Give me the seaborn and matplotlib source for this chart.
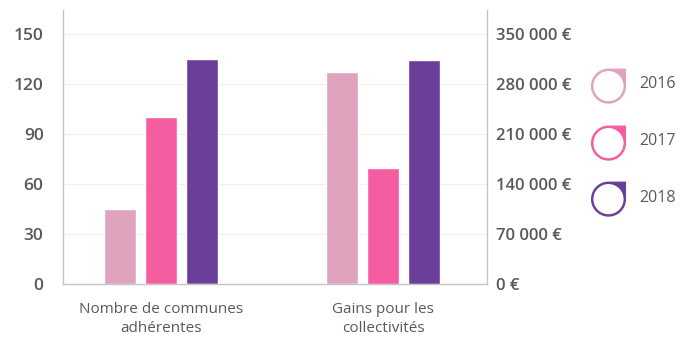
import numpy as np
import pandas as pd
import matplotlib
matplotlib.use("Agg")
import matplotlib.pyplot as plt
from matplotlib.path import Path
from matplotlib.lines import Line2D
from matplotlib.ticker import FuncFormatter
import seaborn as sns

# ---- data ----
categories = ["Nombre de communes\nadhérentes", "Gains pour les\ncollectivités"]
years = ["2016", "2017", "2018"]
communes = [45, 100, 135]
gains = [297000, 162000, 313000]
left_ticks = [0, 30, 60, 90, 120, 150]
right_ticks = [0, 70000, 140000, 210000, 280000, 350000]
colors = {"2016": "#dfa3bd", "2017": "#f45d9f", "2018": "#6b3f99"}

sns.set_theme(style="white")
plt.rcParams["font.family"] = ["Open Sans", "DejaVu Sans"]
TXT = "#58595b"

df1 = pd.DataFrame({"cat": [categories[0]] * 3, "year": years, "value": communes})
df2 = pd.DataFrame({"cat": [categories[1]] * 3, "year": years, "value": gains})

fig = plt.figure(figsize=(6.8, 3.37), dpi=100)
ax = fig.add_axes([63 / 680, 1 - 284 / 337, (487 - 63) / 680, (284 - 10) / 337])
ax2 = ax.twinx()

sns.barplot(data=df1, x="cat", y="value", hue="year", order=categories,
            hue_order=years, palette=colors, width=0.555, gap=0.22,
            legend=False, ax=ax, saturation=1)
sns.barplot(data=df2, x="cat", y="value", hue="year", order=categories,
            hue_order=years, palette=colors, width=0.555, gap=0.22,
            legend=False, ax=ax2, saturation=1)

ymax = 164.4
ax.set_ylim(0, ymax)
ax2.set_ylim(0, ymax * 7000 / 3)
ax.set_xlim(-0.441, 1.468)

ax.set_yticks(left_ticks)
ax2.set_yticks(right_ticks)
ax2.yaxis.set_major_formatter(FuncFormatter(lambda v, p: f"{int(v):,}".replace(",", " ") + " €"))

ax.set_xlabel("")
ax.set_ylabel("")
ax2.set_xlabel("")
ax2.set_ylabel("")

for a in (ax, ax2):
    for s in a.spines.values():
        s.set_color("#c4c4c4")
        s.set_linewidth(1.0)
    a.spines["top"].set_visible(False)
ax.spines["right"].set_visible(False)
ax2.spines["left"].set_visible(False)
ax2.spines["bottom"].set_visible(False)

ax.grid(axis="y", color="#f0f0f0", linewidth=0.8)
ax.set_axisbelow(True)
ax2.grid(False)

ax.tick_params(axis="y", length=0, pad=14, labelsize=12.5, labelcolor=TXT)
ax2.tick_params(axis="y", length=0, pad=6.5, labelsize=12, labelcolor=TXT)
for lab in ax.get_yticklabels() + ax2.get_yticklabels():
    lab.set_fontweight("semibold")
ax.tick_params(axis="x", length=0, pad=13, labelsize=11, labelcolor=TXT)
for lab in ax.get_xticklabels():
    lab.set_linespacing(1.4)

# ---- legend with ring markers ----
r_in = 0.86
dy = -0.15
outer = Path.arc(90, 360)
ov = np.vstack([outer.vertices, [[1, 1], [0, 1]]])
oc = np.concatenate([outer.codes, [Path.LINETO, Path.LINETO]])
inner = Path.arc(0, 360)
iv = inner.vertices[::-1] * r_in
ic = inner.codes
verts = np.vstack([ov, iv])
verts[:, 1] += dy
codes = np.concatenate([oc, ic])
ring = Path(verts, codes)
scale = np.max(np.abs(verts))
msize = 1.17 * 30 * scale / 1.39

handles = [Line2D([], [], marker=ring, linestyle="none", markersize=msize,
                  markerfacecolor=colors[y], markeredgewidth=0, color=colors[y])
           for y in years]
leg = fig.legend(handles, years, loc="upper left",
                 bbox_to_anchor=(586 / 680, 1 - 62 / 337), frameon=False,
                 fontsize=11.5, labelcolor=TXT, handlelength=1.0,
                 handletextpad=1.45, labelspacing=2.55, borderpad=0.4)

fig.savefig("out.png", dpi=100)
